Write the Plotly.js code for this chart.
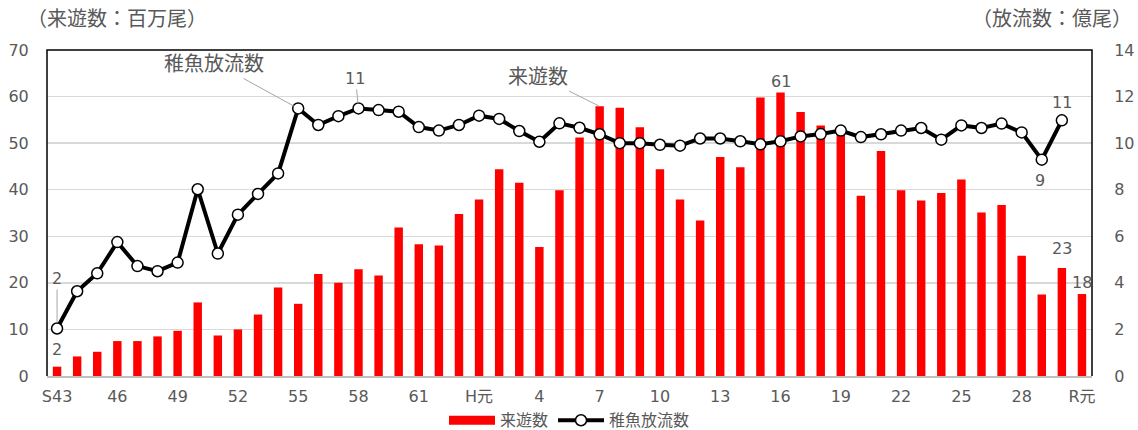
<!DOCTYPE html>
<html>
<head>
<meta charset="utf-8">
<script src="https://cdn.plot.ly/plotly-3.0.1.min.js"></script>
<style>
html,body{margin:0;padding:0;background:#fff;}
#chart{width:1138px;height:430px;}
</style>
</head>
<body>
<div id="chart"></div>
<script>
// Categories: S43–S63, H元–H30, R元
const categories = ["S43","S44","S45","S46","S47","S48","S49","S50","S51","S52","S53","S54","S55","S56","S57","S58","S59","S60","S61","S62","S63",
  "H元","H2","H3","H4","H5","H6","H7","H8","H9","H10","H11","H12","H13","H14","H15","H16","H17","H18","H19","H20","H21","H22","H23","H24","H25","H26","H27","H28","H29","H30","R元"];
const tickCategories = ["S43","S46","S49","S52","S55","S58","S61","H元","H4","H7","H10","H13","H16","H19","H22","H25","H28","R元"];
const tickLabels = ["S43","46","49","52","55","58","61","H元","4","7","10","13","16","19","22","25","28","R元"];

// 来遊数 (百万尾)
const returns = [2.0,4.2,5.2,7.5,7.5,8.5,9.7,15.8,8.7,10.0,13.2,19.0,15.5,21.9,20.0,22.9,21.6,31.9,28.3,28.0,34.8,
  37.9,44.4,41.5,27.7,39.9,51.2,57.9,57.6,53.4,44.4,37.9,33.4,47.0,44.8,59.8,60.9,56.7,53.8,52.3,38.7,48.3,39.9,37.7,39.3,42.2,35.1,36.7,25.8,17.5,23.2,17.6];
// 稚魚放流数 (億尾)
const releases = [2.04,3.64,4.41,5.75,4.72,4.50,4.87,8.02,5.26,6.93,7.82,8.70,11.49,10.78,11.16,11.49,11.42,11.35,10.69,10.54,10.78,
  11.18,11.04,10.52,10.06,10.85,10.66,10.38,10.00,10.00,9.93,9.89,10.20,10.20,10.08,9.95,10.08,10.29,10.39,10.54,10.26,10.38,10.54,10.65,10.15,10.76,10.65,10.84,10.46,9.29,10.98,null];

const FONT = "'DejaVu Sans', 'Noto Sans CJK JP', sans-serif";
const JFONT = "'Noto Sans CJK JP', sans-serif";
const GREY = "#595959";
const LEADER = "#a6a6a6";

const traces = [
  {type:"bar", x:categories, y:returns, name:"来遊数", marker:{color:"#ff0000"}, showlegend:false, hoverinfo:"x+y"},
  {type:"scatter", mode:"lines", x:[null], y:[null], name:"来遊数", line:{color:"#ff0000", width:9}, hoverinfo:"skip"},
  {type:"scatter", mode:"lines+markers", x:categories, y:releases, yaxis:"y2", name:"稚魚放流数",
   line:{color:"#000000", width:4}, marker:{size:11, color:"#ffffff", line:{color:"#000000", width:1.5}}}
];

const idx = c => categories.indexOf(c);
const annotations = [
  {x:"S55", y:releases[idx("S55")], xref:"x", yref:"y2", text:"稚魚放流数", showarrow:true, arrowhead:0, arrowwidth:1, arrowcolor:LEADER, ax:-84, ay:-46, standoff:5, font:{family:JFONT, size:20, color:GREY}},
  {x:"S58", y:releases[idx("S58")], xref:"x", yref:"y2", text:String(Math.round(releases[idx("S58")])), showarrow:true, arrowhead:0, arrowwidth:1, arrowcolor:LEADER, ax:-3, ay:-30, standoff:5, font:{family:FONT, size:16, color:GREY}},
  {x:"S43", y:releases[0], xref:"x", yref:"y2", text:String(Math.round(releases[0])), showarrow:true, arrowhead:0, arrowwidth:1, arrowcolor:LEADER, ax:0, ay:-50, standoff:6, font:{family:FONT, size:16, color:GREY}},
  {x:"S43", y:returns[0], xref:"x", yref:"y", text:String(Math.round(returns[0])), showarrow:false, yanchor:"bottom", yshift:6, font:{family:FONT, size:16, color:GREY}},
  {x:"H7", y:returns[idx("H7")], xref:"x", yref:"y", text:"来遊数", showarrow:true, arrowhead:0, arrowwidth:1, arrowcolor:LEADER, ax:-62, ay:-31, standoff:1, font:{family:JFONT, size:20, color:GREY}},
  {x:"H16", y:returns[idx("H16")], xref:"x", yref:"y", text:String(Math.round(returns[idx("H16")])), showarrow:false, yanchor:"bottom", yshift:-1, font:{family:FONT, size:16, color:GREY}},
  {x:"H30", y:releases[idx("H30")], xref:"x", yref:"y2", text:String(Math.round(releases[idx("H30")])), showarrow:false, yanchor:"bottom", yshift:6, font:{family:FONT, size:16, color:GREY}},
  {x:"H29", y:releases[idx("H29")], xref:"x", yref:"y2", text:String(Math.round(releases[idx("H29")])), showarrow:false, yanchor:"top", yshift:-9, xshift:-2, font:{family:FONT, size:16, color:GREY}},
  {x:"H30", y:returns[idx("H30")], xref:"x", yref:"y", text:String(Math.round(returns[idx("H30")])), showarrow:false, yanchor:"bottom", yshift:8, font:{family:FONT, size:16, color:GREY}},
  {x:"R元", y:returns[idx("R元")], xref:"x", yref:"y", text:String(Math.round(returns[idx("R元")])), showarrow:false, yanchor:"bottom", yshift:0, font:{family:FONT, size:16, color:GREY}},
  {x:0, y:1, xref:"paper", yref:"paper", xanchor:"left", yanchor:"bottom", xshift:-22, yshift:16, text:"（来遊数：百万尾）", showarrow:false, font:{family:JFONT, size:20, color:GREY}},
  {x:1, y:1, xref:"paper", yref:"paper", xanchor:"right", yanchor:"bottom", xshift:42, yshift:16, text:"（放流数：億尾）", showarrow:false, font:{family:JFONT, size:20, color:GREY}}
];

const layout = {
  width:1138, height:430,
  margin:{l:47, r:46, t:50, b:54},
  paper_bgcolor:"#ffffff", plot_bgcolor:"#ffffff",
  bargap:0.58,
  font:{family:FONT, color:GREY},
  xaxis:{type:"category", categoryorder:"array", categoryarray:categories, range:[-0.5, categories.length-0.5],
    tickmode:"array", tickvals:tickCategories, ticktext:tickLabels,
    showgrid:false, showline:true, linecolor:"#bfbfbf", linewidth:2, ticks:"outside", tickcolor:"#ffffff", ticklen:5,
    tickfont:{family:FONT, size:16, color:GREY}, zeroline:false, automargin:false},
  yaxis:{range:[0,70], dtick:10, showgrid:true, gridcolor:"#d9d9d9", gridwidth:1.5, zeroline:false,
    showline:false, ticks:"outside", tickcolor:"#ffffff", ticklen:14, tickfont:{family:FONT, size:16, color:GREY}, automargin:false},
  yaxis2:{range:[0,14], dtick:2, overlaying:"y", side:"right", showgrid:false, zeroline:false,
    showline:false, ticks:"outside", tickcolor:"#ffffff", ticklen:18, tickfont:{family:FONT, size:16, color:GREY}, automargin:false},
  legend:{orientation:"h", x:0.5, xanchor:"center", xref:"paper", y:0.062, yref:"container", yanchor:"top",
    bgcolor:"rgba(0,0,0,0)", font:{family:JFONT, size:16, color:GREY}, itemwidth:46, tracegroupgap:0},
  shapes:[
    {type:"path", xref:"paper", yref:"paper", path:"M0,0 L0,1 L1,1 L1,0", line:{color:"#000000", width:1.5}, layer:"above"}
  ],
  annotations:annotations
};

Plotly.newPlot("chart", traces, layout, {displayModeBar:false, staticPlot:true});
</script>
</body>
</html>
